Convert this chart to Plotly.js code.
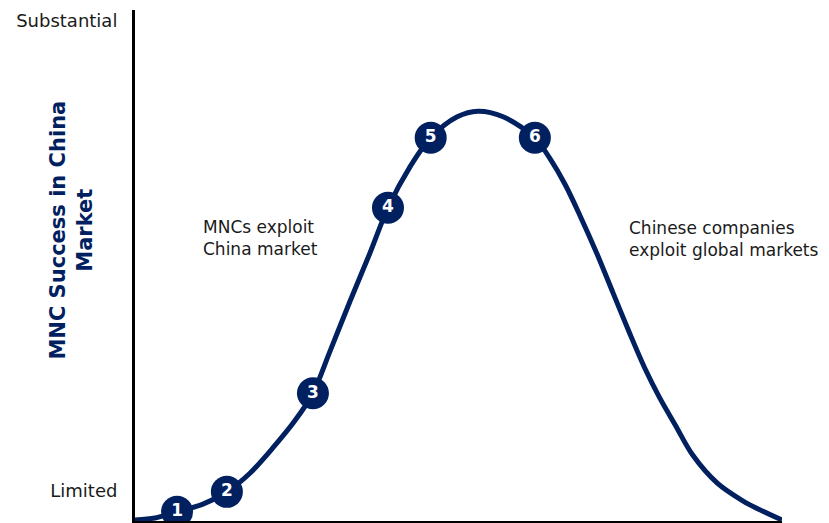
<!DOCTYPE html>
<html>
<head>
<meta charset="utf-8">
<script src="https://cdn.plot.ly/plotly-3.0.1.min.js"></script>
<style>html,body{margin:0;padding:0;background:#fff;}#chart{width:829px;height:523px;}</style>
</head>
<body>
<div id="chart"></div>
<script>
// Curve (stage progression 0-100, success 0-100)
const curveX = [0, 3.1, 6.5, 10.5, 14.2, 17.8, 21.3, 24.7, 27.5, 30.1, 33.2, 36.3, 39.1, 42.5, 45.7, 49.8, 53.0, 56.9, 61.8, 64.1, 66.5, 68.8, 71.4, 73.9, 76.5, 78.8, 81.1, 83.5, 86.2, 90.0, 94.0, 96.9, 100];
const curveY = [0.2, 0.6, 1.8, 3.3, 5.7, 9.4, 14.3, 19.6, 25.0, 33.1, 42.9, 52.4, 61.3, 69.3, 75.0, 79.1, 80.2, 79.1, 75.0, 71.0, 65.8, 59.7, 52.3, 44.6, 36.6, 29.9, 24.1, 18.8, 12.9, 7.4, 3.9, 2.0, 0.2];
// Numbered stages
const stageLabels = ['1', '2', '3', '4', '5', '6'];
const stageX = [6.5, 14.2, 27.5, 39.1, 45.7, 61.8];
const stageY = [1.8, 5.7, 25.0, 61.3, 75.0, 75.0];
// Y tick labels
const yTickVals = [98, 5.9];
const yTickText = ['Substantial', 'Limited'];
const yTitle = 'MNC Success in China<br>Market';
const noteLeft = 'MNCs exploit<br>China market';
const noteRight = 'Chinese companies<br>exploit global markets';

const navy = '#002060';
const font = 'Verdana, "DejaVu Sans", sans-serif';

const traces = [
  {x: curveX, y: curveY, mode: 'lines', type: 'scatter',
   line: {color: navy, width: 5, shape: 'spline', smoothing: 0.9}, hoverinfo: 'skip'},
  {x: stageX, y: stageY, mode: 'markers+text', type: 'scatter',
   text: stageLabels, textposition: 'middle center',
   textfont: {family: font, size: 17, color: '#ffffff', weight: 'bold'},
   marker: {size: 32, color: navy}, hoverinfo: 'skip'}
];

const layout = {
  width: 829, height: 523,
  margin: {l: 135, r: 47, t: 10, b: 2, pad: 0},
  paper_bgcolor: '#ffffff', plot_bgcolor: '#ffffff',
  showlegend: false,
  font: {family: font, color: '#222222'},
  xaxis: {range: [0, 100], showgrid: false, zeroline: false, showticklabels: false, ticks: '',
          showline: true, linecolor: '#000000', linewidth: 3, fixedrange: true},
  yaxis: {range: [0, 100], showgrid: false, zeroline: false, ticks: '',
          tickvals: yTickVals, ticktext: yTickText, ticklabelstandoff: 11,
          tickfont: {family: font, size: 18, color: '#1a1a1a'},
          showline: true, linecolor: '#000000', linewidth: 3, fixedrange: true},
  annotations: [
    {text: yTitle, xref: 'paper', yref: 'paper', x: -0.098, y: 0.5695, xanchor: 'center', yanchor: 'middle',
     textangle: -90, showarrow: false, align: 'center',
     font: {family: font, size: 21, color: navy, weight: 'bold'}},
    {text: noteLeft, xref: 'x', yref: 'y', x: 10.2, y: 55.3, xanchor: 'left', yanchor: 'middle',
     align: 'left', showarrow: false, font: {family: font, size: 17, color: '#1a1a1a'}},
    {text: noteRight, xref: 'x', yref: 'y', x: 76.0, y: 55.2, xanchor: 'left', yanchor: 'middle',
     align: 'left', showarrow: false, font: {family: font, size: 17, color: '#1a1a1a'}}
  ]
};

Plotly.newPlot('chart', traces, layout, {displayModeBar: false, staticPlot: true});
</script>
</body>
</html>
